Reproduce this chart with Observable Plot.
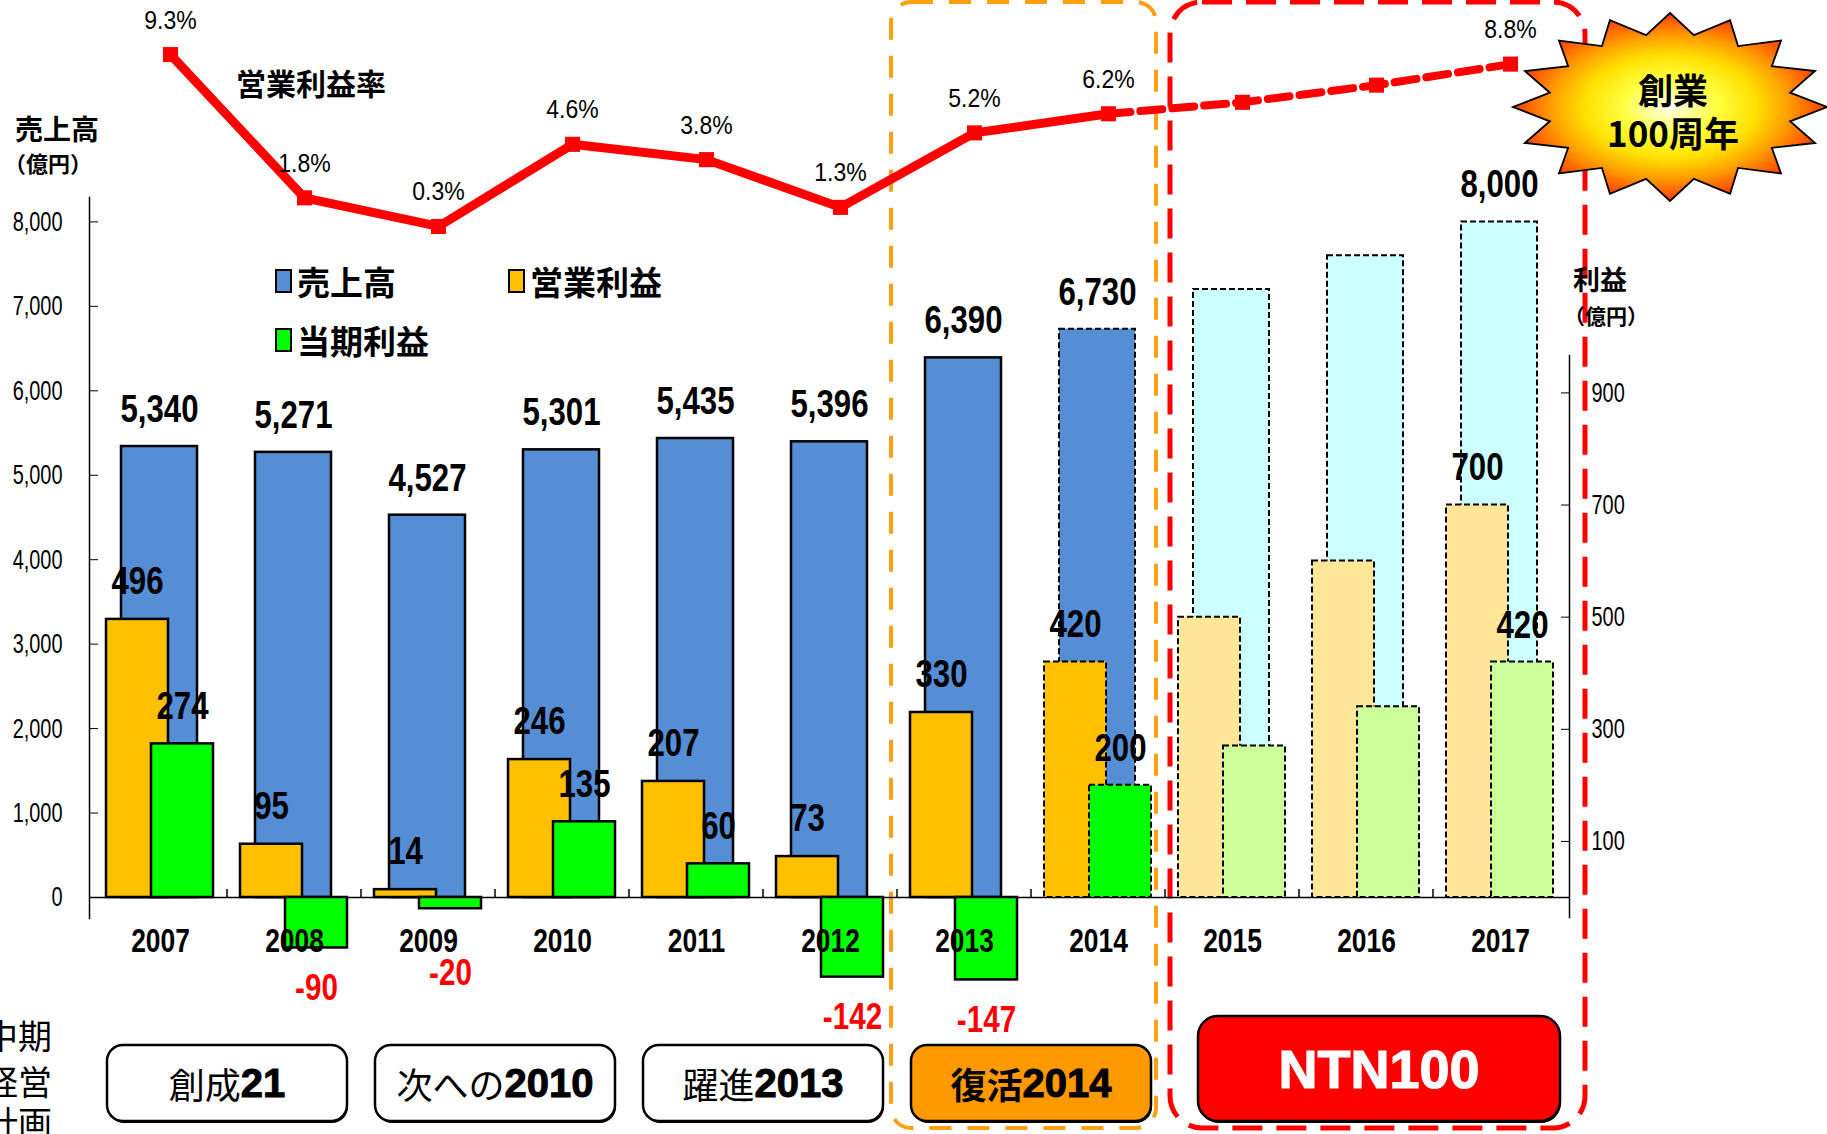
<!DOCTYPE html>
<html><head><meta charset="utf-8">
<script src="https://cdn.jsdelivr.net/npm/d3@7"></script>
<script src="https://cdn.jsdelivr.net/npm/@observablehq/plot@0.6"></script>
<style>
html,body{margin:0;padding:0;background:#fff;}
#wrap{position:relative;width:1827px;height:1134px;overflow:hidden;background:#fff;}
#wrap > svg{position:absolute;left:0;top:0;}
</style></head><body><div id="wrap"></div>
<script>
// ---------------- data ----------------
const years = ["2007","2008","2009","2010","2011","2012","2013","2014","2015","2016","2017"];
const phase = ["actual","actual","actual","actual","actual","actual","actual","forecast","plan","plan","plan"];
const sales = [5340, 5271, 4527, 5301, 5435, 5396, 6390, 6730, 7200, 7600, 8000];           // 売上高 (億円)
const operatingProfit = [496, 95, 14, 246, 207, 73, 330, 420, 500, 600, 700];              // 営業利益 (億円)
const netProfit = [274, -90, -20, 135, 60, -142, -147, 200, 270, 340, 420];                 // 当期利益 (億円)
const operatingMargin = [9.3, 1.8, 0.3, 4.6, 3.8, 1.3, 5.2, 6.2, 6.8, 7.7, 8.8];            // 営業利益率 (%)
const unlabeledYears = ["2015","2016"];
const salesTicks = [0,1000,2000,3000,4000,5000,6000,7000,8000];
const profitTicks = [100,300,500,700,900];
const legendLabels = ["売上高","営業利益","当期利益"];
const periodNames = ["創成21","次への2010","躍進2013","復活2014","NTN100"];
const periodStart = ["2007","2009","2011","2013","2015"];
const periodEnd   = ["2008","2010","2012","2014","2017"];
const starText = ["創業","100周年"];
const sideText = ["中期","経営","計画"];

// ---------------- styles ----------------
const W = 1827, H = 1134;
const NUM_FONT = "'Liberation Sans',Arial,sans-serif";
const CJK_FONT = "'Noto Sans CJK JP','Noto Sans',sans-serif";
const COLORS = {
  actual:   {sales:"#558ED5", op:"#FFC000", net:"#00FF00"},
  forecast: {sales:"#558ED5", op:"#FFC000", net:"#00FF00"},
  plan:     {sales:"#CCFFFF", op:"#FFE699", net:"#CCFF99"}
};
const INSETS = {sales:[28,30], op:[13,59], net:[58,14]};
const LABEL_DX = {sales:-1, op:-23, net:22};
// font size -> horizontal squeeze (imitates the narrow typeface of the original)
const SQUEEZE = {39:0.8, 37:0.8, 33:0.8, 28:0.71, 25:0.92};

const rows = years.map((year,i)=>({year, phase:phase[i], sales:sales[i], op:operatingProfit[i], net:netProfit[i], margin:operatingMargin[i]}));
const labelled = rows.filter(r=>!unlabeledYears.includes(r.year));

const X = {type:"band", domain:years, range:[91,1569], padding:0, axis:null};
const baseStyle = {background:"transparent", fontFamily:NUM_FONT, fontSize:"25px", color:"#000", overflow:"visible"};

function bars(key){
  return ["actual","forecast","plan"].map(ph => Plot.barY(rows.filter(r=>r.phase===ph), {
    x:"year", y:key, fill:COLORS[ph][key], stroke:"#000",
    strokeWidth: ph==="actual" ? 2.5 : 2,
    strokeDasharray: ph==="actual" ? undefined : "6,3",
    insetLeft:INSETS[key][0], insetRight:INSETS[key][1]
  }));
}

// ---------------- sales plot (left axis) ----------------
const salesPlot = Plot.plot({
  width:W, height:H, marginLeft:89, marginRight:258, marginTop:197, marginBottom:216,
  x:X, y:{domain:[0,8000], range:[897,221.4]},
  style:baseStyle,
  marks:[
    Plot.frame({anchor:"left", stroke:"#000", strokeWidth:1.5}),
    Plot.axisY(salesTicks, {anchor:"left", tickSize:9, dx:9, tickPadding:27, tickFormat:d3.format(","), fontSize:28, label:null}),
    Plot.ruleY([0], {stroke:"#000", strokeWidth:1.5}),
    ...bars("sales"),
    Plot.text(labelled, {x:"year", y:"sales", text:d=>d3.format(",")(d.sales), dx:LABEL_DX.sales, dy:-37,
      fontSize:39, fontWeight:"bold", fontFamily:NUM_FONT, fill:"#000"})
  ]
});

// ---------------- profit plot (right axis) ----------------
const profitPlot = Plot.plot({
  width:W, height:H, marginLeft:89, marginRight:258, marginTop:355, marginBottom:217,
  x:X, y:{domain:[0,900], range:[897,392.4]},
  style:baseStyle,
  marks:[
    Plot.frame({anchor:"right", stroke:"#000", strokeWidth:1.5}),
    Plot.axisY(profitTicks, {anchor:"right", tickSize:9, dx:-9, tickPadding:22, fontSize:28, label:null}),
    ...bars("op"),
    ...bars("net"),
    Plot.text(labelled, {x:"year", y:"op", text:d=>String(d.op), dx:LABEL_DX.op, dy:-38,
      fontSize:39, fontWeight:"bold", fontFamily:NUM_FONT, fill:"#000"}),
    Plot.text(labelled.filter(r=>r.net>=0), {x:"year", y:"net", text:d=>String(d.net), dx:LABEL_DX.net, dy:-37,
      fontSize:39, fontWeight:"bold", fontFamily:NUM_FONT, fill:"#000"}),
    Plot.text(labelled.filter(r=>r.net<0), {x:"year", y:d=>Math.min(d.net,-64), text:d=>String(d.net), dx:LABEL_DX.net, dy:40,
      fontSize:37, fontWeight:"bold", fontFamily:NUM_FONT, fill:"#FF0000"}),
    Plot.text(years, {x:d=>d, frameAnchor:"bottom", lineAnchor:"middle", dy:24, text:d=>d, fontSize:33, fontWeight:"bold", fontFamily:NUM_FONT, fill:"#000"})
  ]
});

// ---------------- operating margin plot ----------------
const lastActual = "2014";
const pctPlot = Plot.plot({
  width:W, height:H, marginLeft:89, marginRight:258, marginTop:0, marginBottom:0,
  x:X, y:{domain:[0,10], range:[231.7,40.7], axis:null},
  style:baseStyle,
  marks:[
    Plot.line(rows.filter(r=>r.year<=lastActual), {x:"year", y:"margin", stroke:"#FF0000", strokeWidth:9, dx:10, strokeLinejoin:"miter"}),
    Plot.line(rows.filter(r=>r.year>=lastActual), {x:"year", y:"margin", stroke:"#FF0000", strokeWidth:8, dx:10, strokeDasharray:"22,10"}),
    Plot.dot(rows, {x:"year", y:"margin", symbol:"square", r:8.5, fill:"#FF0000", dx:10}),
    Plot.text(labelled, {x:"year", y:"margin", text:d=>d.margin.toFixed(1)+"%", dx:10, dy:-34, fontSize:25, fontFamily:NUM_FONT, fill:"#000"})
  ]
});

const xs = salesPlot.scale("x");
const ys = profitPlot.scale("y");
const bw = xs.bandwidth;
const bandStart = y => xs.apply(y);
const bandEnd = y => xs.apply(y) + bw;

// ---------------- background: dashed period frames ----------------
const bg = d3.create("svg").attr("width",W).attr("height",H);
const FRAME_STYLE = [
  {from:"2013", to:"2014", color:"#FFA010", dash:"22,16", width:4, insetL:-6, insetR:9, top:2, bottom:1128, r:20},
  {from:"2015", to:"2017", color:"#FF0000", dash:"30,14", width:5, insetL:5, insetR:-18, top:2, bottom:1128, r:32}
];
FRAME_STYLE.forEach(f=>{
  const x1 = bandStart(f.from)+f.insetL, x2 = bandEnd(f.to)-f.insetR;
  bg.append("rect").attr("x",x1).attr("y",f.top).attr("width",x2-x1).attr("height",f.bottom-f.top)
    .attr("rx",f.r).attr("fill","none").attr("stroke",f.color).attr("stroke-width",f.width).attr("stroke-dasharray",f.dash);
});

// ---------------- overlay ----------------
const ov = d3.create("svg").attr("width",W).attr("height",H).style("overflow","visible");
years.slice(1).forEach(y=>{
  ov.append("line").attr("x1",bandStart(y)).attr("x2",bandStart(y)).attr("y1",ys.apply(0)-8).attr("y2",ys.apply(0))
    .attr("stroke","#000").attr("stroke-width",1.5);
});
function txt(x,y,s,size,weight,anchor,fill,font){
  return ov.append("text").attr("x",x).attr("y",y).attr("font-size",size).attr("font-weight",weight||"normal")
    .attr("text-anchor",anchor||"start").attr("dominant-baseline","central").attr("fill",fill||"#000")
    .attr("font-family",font||CJK_FONT).text(s);
}
txt(15,128,"売上高",28,"bold");
txt(4,162,"（億円）",22,"bold");
txt(1573,278,"利益",27,"bold");
txt(1564,315,"（億円）",21,"bold");
txt(236,82,"営業利益率",30,"bold");

// legend
const legendPos = [[276,281],[509,281],[276,340]];
const legendKeys = ["sales","op","net"];
legendLabels.forEach((s,i)=>{
  const [lx,ly] = legendPos[i];
  ov.append("rect").attr("x",lx).attr("y",ly-11).attr("width",15).attr("height",22)
    .attr("fill",COLORS.actual[legendKeys[i]]).attr("stroke","#000").attr("stroke-width",2);
  txt(lx+21,ly,s,33,"bold");
});

// period boxes
const BOX = {top:1045, bottom:1121, insetL:14, insetR:14, r:16};
const NTN = {top:1016, bottom:1121, insetL:33, insetR:7, r:20};
periodNames.forEach((name,i)=>{
  const isNtn = name.startsWith("NTN");
  const st = isNtn ? NTN : BOX;
  const x1 = bandStart(periodStart[i])+st.insetL, x2 = bandEnd(periodEnd[i])-st.insetR;
  const fill = isNtn ? "#FF0000" : (name.startsWith("復活") ? "#FF9900" : "#FFFFFF");
  ov.append("rect").attr("x",x1+1).attr("y",st.top+2).attr("width",x2-x1).attr("height",st.bottom-st.top)
    .attr("rx",st.r).attr("fill","#000");
  ov.append("rect").attr("x",x1).attr("y",st.top).attr("width",x2-x1).attr("height",st.bottom-st.top)
    .attr("rx",st.r).attr("fill",fill).attr("stroke","#000").attr("stroke-width",2.5);
  const cx = (x1+x2)/2, cy = (st.top+st.bottom)/2;
  const t = ov.append("text").attr("x",cx).attr("y",cy).attr("text-anchor","middle").attr("dominant-baseline","central");
  if (isNtn) {
    t.attr("font-family","'Liberation Sans',Arial,sans-serif").attr("font-weight","bold").attr("font-size",54)
     .attr("fill","#fff").attr("stroke","#fff").attr("stroke-width",1.2).text(name);
  } else {
    const m = name.match(/^(\D*)(\d.*)$/);
    t.append("tspan").attr("font-family",CJK_FONT).attr("font-size",36)
      .attr("font-weight", name.startsWith("復活") ? "bold":"normal").text(m[1]);
    t.append("tspan").attr("font-family","'Liberation Sans',Arial,sans-serif").attr("font-weight","bold")
      .attr("font-size",40).attr("stroke","#000").attr("stroke-width",1).text(m[2]);
  }
});

sideText.forEach((s,i)=>{ txt(52,[1034,1080,1121][i],s,34,"normal","end"); });

// starburst
const defs = ov.append("defs");
const grad = defs.append("radialGradient").attr("id","burst").attr("cx","50%").attr("cy","50%").attr("r","50%");
[["0%","#FFFFF0"],["30%","#FFFF40"],["55%","#FFE000"],["75%","#FFA000"],["100%","#FF3C00"]]
  .forEach(([o,c])=>grad.append("stop").attr("offset",o).attr("stop-color",c));
const SB = {cx:1670, cy:107, rx:157, ry:94, k:0.78, n:16};
const pts = d3.range(2*SB.n).map(i=>{
  const a = -Math.PI/2 + i*Math.PI/SB.n, f = i%2 ? SB.k : 1;
  return [SB.cx + SB.rx*f*Math.cos(a), SB.cy + SB.ry*f*Math.sin(a)];
});
ov.append("polygon").attr("points",pts.map(p=>p.join(",")).join(" "))
  .attr("fill","url(#burst)").attr("stroke","#000").attr("stroke-width",1.8).attr("stroke-linejoin","miter");
txt(1673,88,starText[0],35,"bold","middle");
txt(1673,131,starText[1],35,"bold","middle");

const wrap = document.getElementById("wrap");
wrap.append(bg.node(), salesPlot, profitPlot, pctPlot, ov.node());

// narrow the numeric labels to match the condensed face of the original
[salesPlot, profitPlot, pctPlot].forEach(svg=>{
  d3.select(svg).selectAll("text").each(function(){
    const el = this.closest("[font-size]");
    const fs = el ? Math.round(parseFloat(el.getAttribute("font-size"))) : null;
    const f = SQUEEZE[fs];
    if (!f) return;
    const len = this.getComputedTextLength();
    if (len > 0) { this.setAttribute("textLength", (len*f).toFixed(1)); this.setAttribute("lengthAdjust","spacingAndGlyphs"); }
  });
});
</script>
</body></html>
